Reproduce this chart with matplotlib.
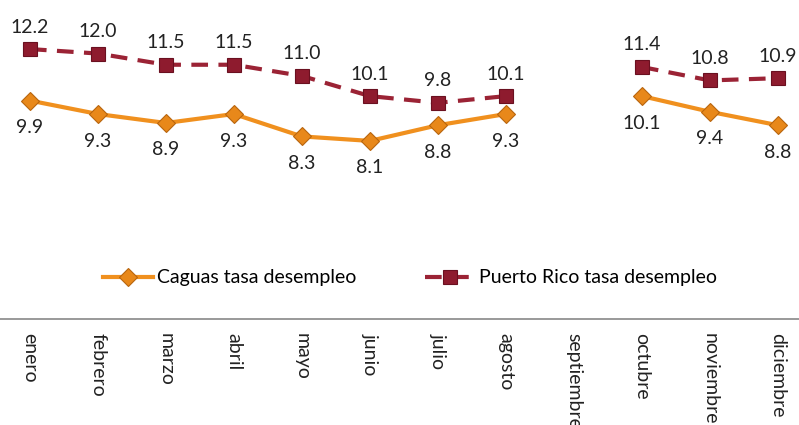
import matplotlib.pyplot as plt
import numpy as np

plt.rcParams['font.family'] = ['Lato', 'DejaVu Sans']

# data
months = ["enero", "febrero", "marzo", "abril", "mayo", "junio", "julio",
          "agosto", "septiembre", "octubre", "noviembre", "diciembre"]
caguas = [9.9, 9.3, 8.9, 9.3, 8.3, 8.1, 8.8, 9.3, np.nan, 10.1, 9.4, 8.8]
puerto_rico = [12.2, 12.0, 11.5, 11.5, 11.0, 10.1, 9.8, 10.1, np.nan, 11.4, 10.8, 10.9]

x = np.arange(len(months))

fig = plt.figure(figsize=(7.99, 4.25), dpi=100)
ax = fig.add_axes([0, 1 - 319 / 425, 1, 319 / 425])

ax.plot(x, caguas, color="#F0901E", lw=3, marker="D", markersize=9,
        markerfacecolor="#E8881A", markeredgecolor="#B8650E", markeredgewidth=0.8,
        label="Caguas tasa desempleo", zorder=3)
ax.plot(x, puerto_rico, color="#9B2335", lw=3, ls=(0, (4, 2.5)), marker="s", markersize=10,
        markerfacecolor="#8E1B2E", markeredgecolor="#6A1020", markeredgewidth=0.8,
        label="Puerto Rico tasa desempleo", zorder=3)

for xi, v in zip(x, caguas):
    if not np.isnan(v):
        ax.annotate(f"{v:.1f}", (xi, v), xytext=(0, -27), textcoords="offset pixels",
                    ha="center", va="center", fontsize=14, color="#222222")
for xi, v in zip(x, puerto_rico):
    if not np.isnan(v):
        ax.annotate(f"{v:.1f}", (xi, v), xytext=(0, 22), textcoords="offset pixels",
                    ha="center", va="center", fontsize=14, color="#222222")

ax.set_xlim(-0.44, 11.31)
ax.set_ylim(0.15, 14.39)
ax.set_yticks([])
ax.set_xticks(x)
ax.set_xticklabels(months, rotation=270, fontsize=14, color="#222222", va="top")
ax.tick_params(axis="x", length=0, pad=10)

for s in ["top", "left", "right"]:
    ax.spines[s].set_visible(False)
ax.spines["bottom"].set_color("#888888")
ax.spines["bottom"].set_linewidth(1.2)

ax.legend(loc="center", bbox_to_anchor=(0.513, 1 - 278 / 319), ncol=2, frameon=False,
          fontsize=14, handlelength=2.6, columnspacing=3.5, handletextpad=0.2)

fig.savefig("out.png", dpi=100)
